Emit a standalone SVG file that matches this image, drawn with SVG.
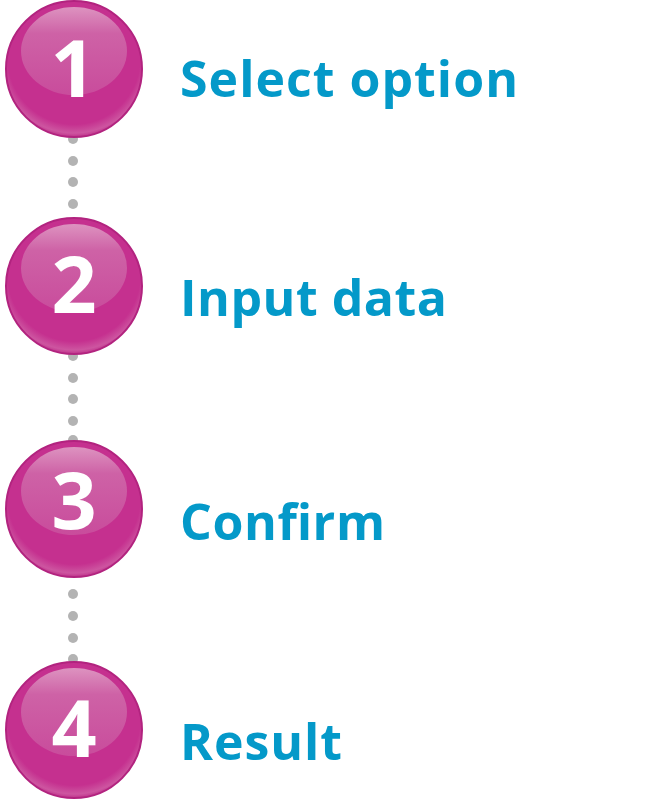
<svg xmlns="http://www.w3.org/2000/svg" width="656" height="799" viewBox="0 0 656 799">
  <defs>
    <style>
      .ball { fill: url(#ballFill); stroke: #B2237F; stroke-width: 2; }
      .gloss { fill: url(#glossFill); }
      .num { font-family: "Open Sans", "DejaVu Sans", sans-serif; font-weight: 700; font-size: 79px; fill: #FFFFFF; text-anchor: middle; }
      .label { font-family: "Open Sans", "DejaVu Sans", sans-serif; font-weight: 700; font-size: 50px; fill: #0499C9; }
      .dot { fill: #B3B3B3; }
    </style>
    <radialGradient id="ballFill" cx="0.5" cy="0.42" r="0.58">
      <stop offset="0" stop-color="#C5308F"/>
      <stop offset="0.84" stop-color="#C5308F"/>
      <stop offset="0.95" stop-color="#CD55A0"/>
      <stop offset="1" stop-color="#C0338C"/>
    </radialGradient>
    <linearGradient id="glossFill" x1="0" y1="0" x2="0" y2="1">
      <stop offset="0" stop-color="#DD93C0"/>
      <stop offset="0.3" stop-color="#CE62A6"/>
      <stop offset="1" stop-color="#C94C9C"/>
    </linearGradient>
    <g id="ball">
      <circle class="ball" cx="0" cy="0" r="68"/>
      <ellipse class="gloss" cx="0" cy="-18" rx="53" ry="44"/>
    </g>
  </defs>

  <!-- dotted connectors between the steps -->
  <g id="connectors">
    <circle class="dot" cx="73" cy="139" r="5"/>
    <circle class="dot" cx="73" cy="161" r="5"/>
    <circle class="dot" cx="73" cy="182" r="5"/>
    <circle class="dot" cx="73" cy="204" r="5"/>
    <circle class="dot" cx="73" cy="356" r="5"/>
    <circle class="dot" cx="73" cy="378" r="5"/>
    <circle class="dot" cx="73" cy="399" r="5"/>
    <circle class="dot" cx="73" cy="421" r="5"/>
    <circle class="dot" cx="73" cy="440" r="5"/>
    <circle class="dot" cx="73" cy="594" r="5"/>
    <circle class="dot" cx="73" cy="616" r="5"/>
    <circle class="dot" cx="73" cy="638" r="5"/>
    <circle class="dot" cx="73" cy="659" r="5"/>
  </g>

  <g id="step1">
    <use href="#ball" x="74" y="69"/>
    <text class="num" x="73" y="97">1</text>
    <text class="label" x="180" y="97" textLength="338">Select option</text>
  </g>
  <g id="step2">
    <use href="#ball" x="74" y="286"/>
    <text class="num" x="74" y="313">2</text>
    <text class="label" x="180" y="316" textLength="267">Input data</text>
  </g>
  <g id="step3">
    <use href="#ball" x="74" y="509"/>
    <text class="num" x="74" y="529">3</text>
    <text class="label" x="180" y="540" textLength="205">Confirm</text>
  </g>
  <g id="step4">
    <use href="#ball" x="74" y="730"/>
    <text class="num" x="74" y="757">4</text>
    <text class="label" x="180" y="760" textLength="162">Result</text>
  </g>
</svg>
